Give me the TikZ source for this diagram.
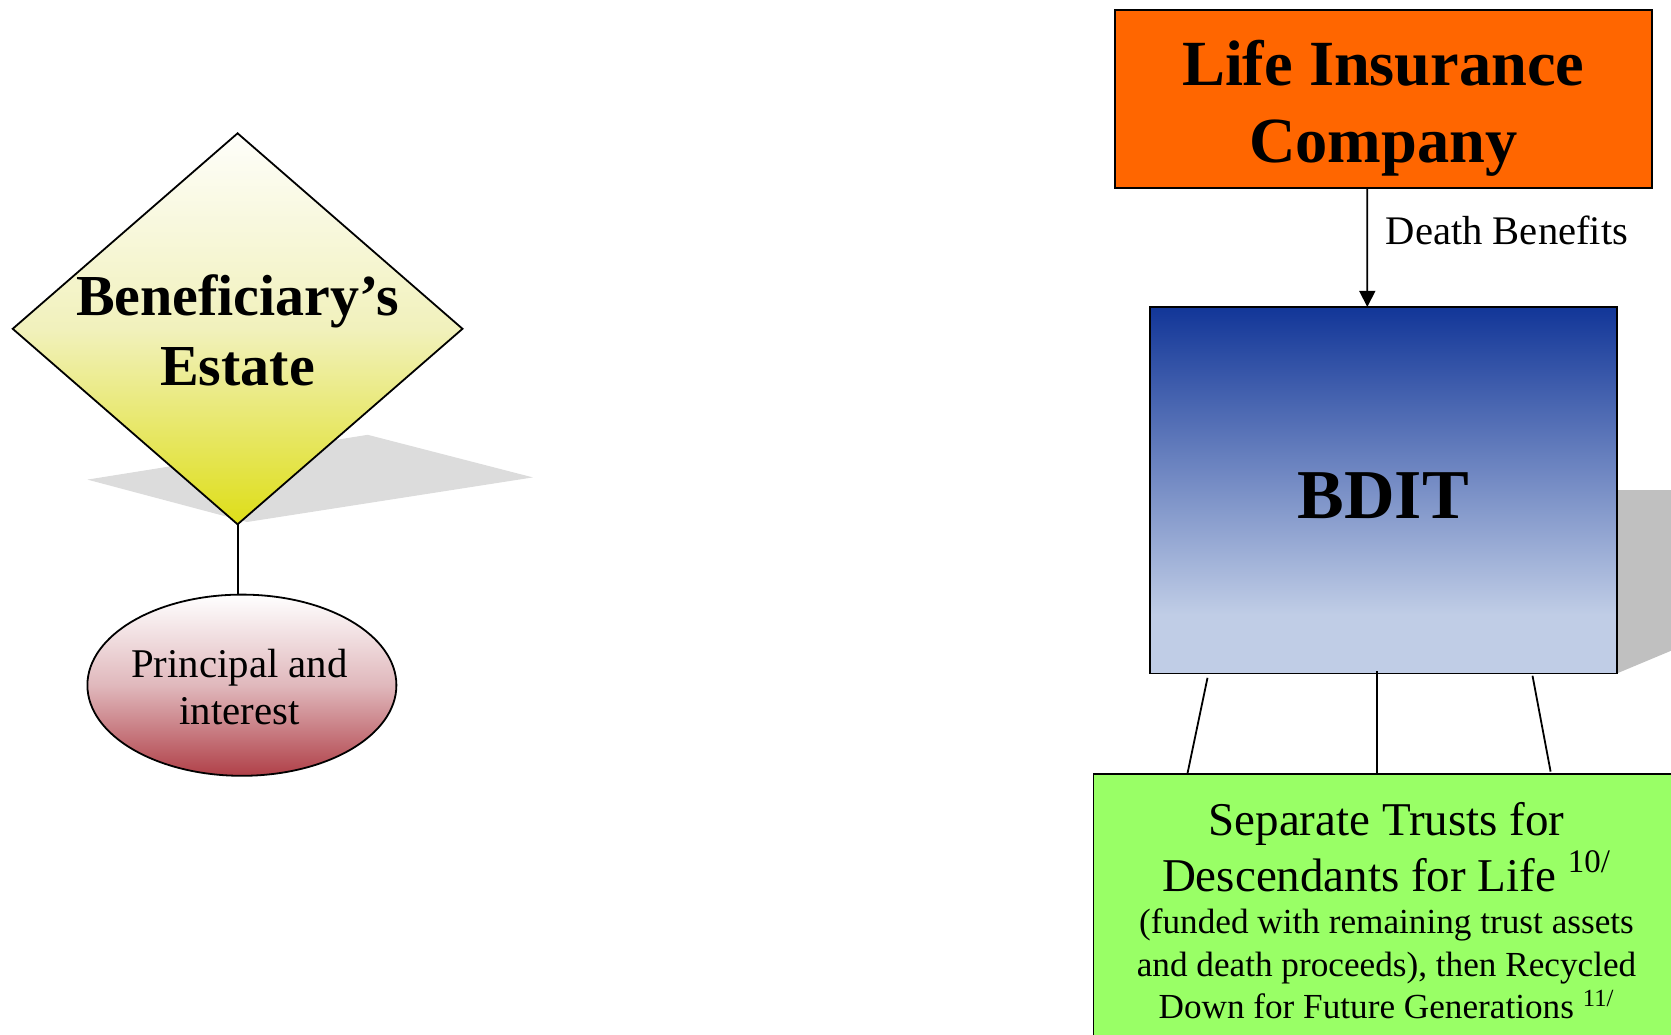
\documentclass[tikz,border=0pt]{standalone}
\usepackage{fontspec}
\setmainfont{Liberation Serif}
\usetikzlibrary{shapes.geometric,arrows.meta}

\definecolor{insorange}{RGB}{255,102,0}
\definecolor{trustgreen}{RGB}{153,255,102}
\definecolor{bditdark}{RGB}{18,54,152}
\definecolor{bditlight}{RGB}{192,205,230}
\definecolor{estatetop}{RGB}{254,254,250}
\definecolor{estatemid}{RGB}{241,241,188}
\definecolor{estateyellow}{RGB}{222,222,24}
\definecolor{interestmid}{RGB}{224,184,188}
\definecolor{interestred}{RGB}{176,64,72}
\definecolor{shadowgray}{RGB}{192,192,192}
\definecolor{shadowlight}{RGB}{220,220,220}

% dark blue at the top, fading to pale blue over the lower part of the box
\pgfdeclareverticalshading{bditshade}{100bp}{color(0bp)=(bditlight); color(33bp)=(bditlight); color(75bp)=(bditdark); color(100bp)=(bditdark)}
% near-white top, pale middle, strong yellow at the lower tip
\pgfdeclareverticalshading{estateshade}{100bp}{color(0bp)=(estateyellow); color(25bp)=(estateyellow); color(50bp)=(estatemid); color(75bp)=(estatetop); color(100bp)=(estatetop)}
% white top turning to deep red at the bottom
\pgfdeclareverticalshading{interestshade}{100bp}{color(0bp)=(interestred); color(25bp)=(interestred); color(50bp)=(interestmid); color(75bp)=(white); color(100bp)=(white)}

\begin{document}
\begin{tikzpicture}[x=0.5pt,y=-0.5pt,
  outline/.style={draw=black, line width=0.9pt, inner sep=0pt, outer sep=0pt},
  link/.style={draw=black, line width=0.9pt},
  flow/.style={link, -{Triangle[length=8pt,width=8pt]}},
  plain/.style={anchor=base, align=center, inner sep=0pt}]

\useasboundingbox (0,0) rectangle (1671,1034);
\clip (0,0) rectangle (1671,1034);

% ---------- left branch: estate and its payments ----------
\fill[shadowlight] (87.4,479.6) -- (367.7,434.8) -- (532.9,477.4) -- (247,522) -- cycle;

\node[outline, diamond, shade, shading=estateshade,
      minimum width=224.9pt, minimum height=195.5pt] (estate) at (237.6,328.8) {};
% multi-line texts are anchored at the baseline of their last line
\node[plain, font=\bfseries\fontsize{29}{35.2}\selectfont] (estatetext) at (237.6,385.8)
      {Beneficiary’s\\Estate};

\node[outline, ellipse, shade, shading=interestshade,
      minimum width=154.5pt, minimum height=90.6pt] (interest) at (241.9,685.2) {};
\node[plain, font=\fontsize{20.4}{23.5}\selectfont] (interesttext) at (239.5,724.7)
      {Principal and\\interest};

\draw[link] (estate.south) -- (estate.south |- interest.north);

% ---------- right branch: insurer, trust and descendants ----------
\fill[shadowgray] (1616.7,490) -- (1680,490) -- (1680,647) -- (1616.7,673.5) -- cycle;

\node[outline, fill=insorange, minimum width=268.55pt, minimum height=89pt]
      (insurer) at (1383.25,98.6) {};
\node[plain, font=\bfseries\fontsize{32.2}{38.4}\selectfont] (insurertext) at (1383.3,162)
      {Life Insurance\\Company};

\node[outline, shade, shading=bditshade, minimum width=233.4pt, minimum height=183.3pt]
      (bdit) at (1383.3,490.2) {};
\node[plain, font=\bfseries\fontsize{35}{42}\selectfont]
      (bdittext) at (1383.3,518) {BDIT};

\draw[flow] ([xshift=-8pt]insurer.south) -- ([xshift=-8pt]bdit.north);
\node[anchor=base west, inner sep=0pt, font=\fontsize{20.3}{24}\selectfont]
      (benefits) at (1385.4,244) {Death Benefits};

\node[outline, fill=trustgreen, anchor=north west, minimum width=303.3pt, minimum height=143.2pt]
      (trusts) at (1093.4,773.7) {};
\node[plain, font=\fontsize{23.5}{27.75}\selectfont] (truststitle) at (1386.5,891)
      {Separate Trusts for\\Descendants for Life \textsuperscript{10/}};
\node[plain, font=\fontsize{17.6}{21.3}\selectfont] (trustsnote) at (1386.5,1018.8)
      {(funded with remaining trust assets\\and death proceeds), then Recycled\\Down for Future Generations \textsuperscript{11/}};

\coordinate (bA) at (1207.5,677.8); \coordinate (tA) at (1187.2,774.8);
\coordinate (bB) at (1376.9,671.4); \coordinate (tB) at (1376.9,772.6);
\coordinate (bC) at (1532.5,675.7); \coordinate (tC) at (1550.6,771.6);
\draw[link] (bA) -- (tA);
\draw[link] (bB) -- (tB);
\draw[link] (bC) -- (tC);

\end{tikzpicture}
\end{document}
